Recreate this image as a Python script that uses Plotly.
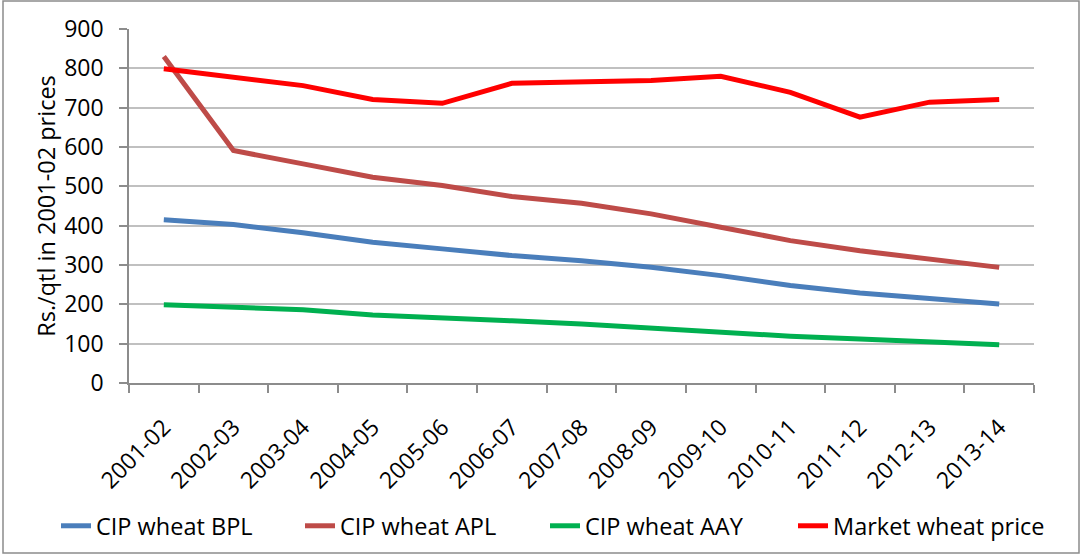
import plotly.graph_objects as go

years = ['2001-02', '2002-03', '2003-04', '2004-05', '2005-06', '2006-07', '2007-08',
         '2008-09', '2009-10', '2010-11', '2011-12', '2012-13', '2013-14']

bpl = [415, 403, 382, 358, 341, 324, 311, 294, 273, 248, 229, 214, 201]
apl = [830, 591, 557, 523, 502, 474, 457, 430, 396, 362, 336, 315, 294]
aay = [199, 194, 186, 173, 167, 158, 150, 139, 130, 119, 112, 105, 97]
market = [799, 776, 756, 721, 711, 762, 767, 769, 780, 739, 676, 714, 721]

series = [
    ('CIP wheat BPL', bpl, '#4a7ebb'),
    ('CIP wheat APL', apl, '#be4b48'),
    ('CIP wheat AAY', aay, '#00b050'),
    ('Market wheat price', market, '#ff0000'),
]

W, H = 1081, 555
L, R, T, B = 129, 47, 29, 172
pw, ph = W - L - R, H - T - B

# one legend per series so each entry can sit where the original has it
legend_left = [56, 300, 545, 793]

fig = go.Figure()
legends = {}
for i, (name, vals, col) in enumerate(series):
    key = 'legend' if i == 0 else f'legend{i + 1}'
    fig.add_trace(go.Scatter(x=years, y=vals, name=name, mode='lines',
                             line=dict(color=col, width=5), legend=key))
    legends[key] = dict(orientation='h', x=(legend_left[i] - L) / pw, xanchor='left',
                        y=-(526 - (T + ph)) / ph, yanchor='middle',
                        font=dict(size=23.5), bgcolor='rgba(0,0,0,0)')

font = 'Open Sans'
fig.update_layout(
    width=W, height=H,
    margin=dict(l=L, r=R, t=T, b=B, pad=0, autoexpand=False),
    paper_bgcolor='white', plot_bgcolor='white',
    font=dict(family=font, size=23, color='black'),
    showlegend=True,
    shapes=[dict(type='rect', xref='paper', yref='paper',
                 x0=(3 - L) / pw, x1=(1079 - L) / pw,
                 y0=-(553 - T - ph) / ph, y1=(T + ph - 1) / ph,
                 line=dict(color='#8c8c8c', width=1.5), layer='below')],
    **legends,
)

fig.update_xaxes(type='category', range=[-0.5, 12.5], tickangle=-45,
                 ticks='outside', tickson='boundaries', ticklen=8,
                 tickcolor='#8c8c8c', tickwidth=1.5,
                 showline=True, linecolor='#8c8c8c', linewidth=1.5,
                 showgrid=False, tickfont=dict(size=23), automargin=False,
                 ticklabelstandoff=20)
fig.update_yaxes(range=[0, 900], dtick=100, ticks='outside', ticklen=8,
                 tickcolor='#8c8c8c', tickwidth=1.5,
                 showline=True, linecolor='#8c8c8c', linewidth=1.5,
                 showgrid=True, gridcolor='#c0c0c0', gridwidth=1.5,
                 zeroline=False, tickfont=dict(size=23), automargin=False,
                 ticklabelstandoff=11,
                 title=dict(text='Rs./qtl in 2001-02 prices', font=dict(size=23.5), standoff=2))

fig.write_html('out.html', config={'displayModeBar': False},
               post_script="document.body.style.margin='0';")
